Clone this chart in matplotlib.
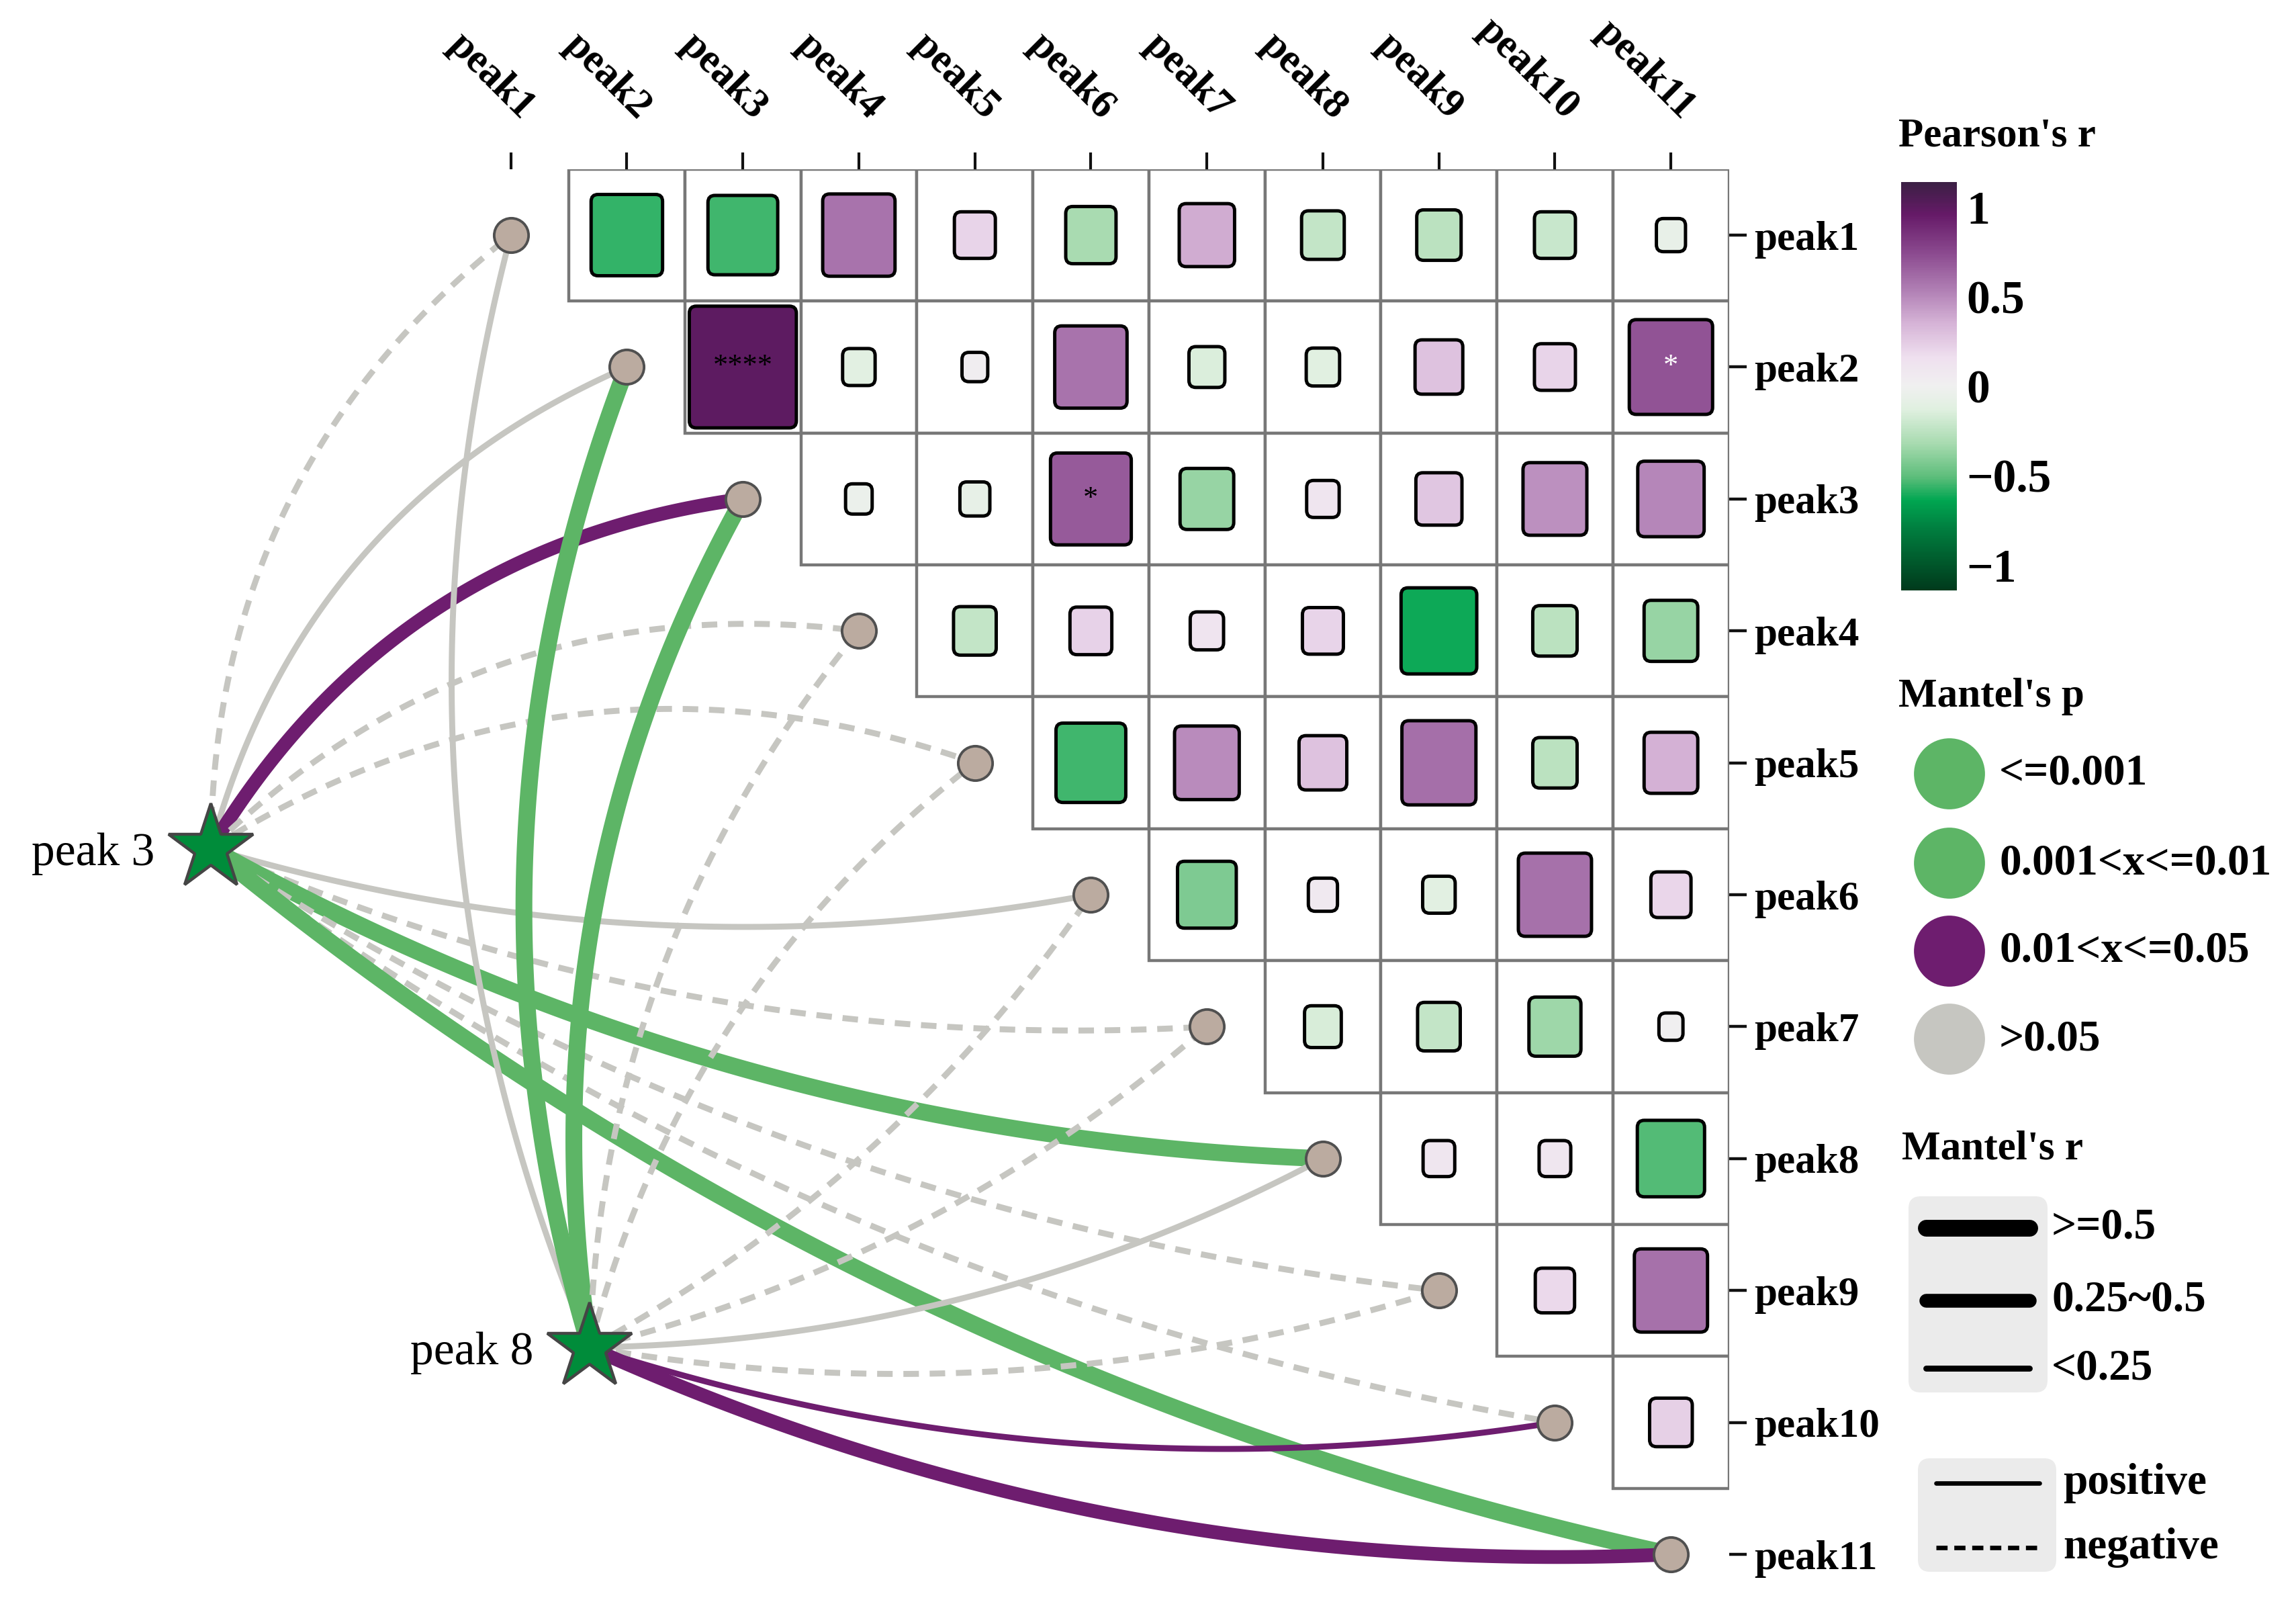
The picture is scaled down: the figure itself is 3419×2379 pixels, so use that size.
import numpy as np
import matplotlib
matplotlib.use("Agg")
import matplotlib.pyplot as plt
from matplotlib.colors import LinearSegmentedColormap, Normalize
from matplotlib.patches import FancyBboxPatch, Rectangle
from matplotlib.cm import ScalarMappable

plt.rcParams['font.family'] = ['Liberation Serif', 'DejaVu Serif']

# ---------------- data ----------------
peaks = ['peak1', 'peak2', 'peak3', 'peak4', 'peak5', 'peak6',
         'peak7', 'peak8', 'peak9', 'peak10', 'peak11']

# Pearson's r, upper triangle, row peak_i against peak_(i+1) ... peak11
r_rows = [
    [-0.57, -0.55, 0.58, 0.21, -0.32, 0.38, -0.23, -0.25, -0.21, -0.07],
    [0.99, -0.11, 0.03, 0.58, -0.15, -0.12, 0.29, 0.21, 0.71],
    [-0.04, -0.08, 0.68, -0.36, 0.11, 0.27, 0.48, 0.51],
    [-0.23, 0.22, 0.12, 0.21, -0.62, -0.25, -0.36],
    [-0.55, 0.49, 0.29, 0.60, -0.25, 0.36],
    [-0.42, 0.07, -0.11, 0.59, 0.20],
    [-0.16, -0.23, -0.34, 0.01],
    [0.10, 0.10, -0.52],
    [0.19, 0.59],
    [0.23],
]
sig_row = ['peak2', 'peak2', 'peak3']
sig_col = ['peak3', 'peak11', 'peak6']
sig_txt = ['****', '*', '*']

env_names = ['peak 3', 'peak 8']
mantel_r_peak3 = [-0.10, 0.12, 0.38, -0.08, -0.10, 0.10, -0.09, 0.55, -0.12, -0.05, 0.58]
mantel_p_peak3 = [0.42, 0.21, 0.023, 0.55, 0.47, 0.31, 0.62, 0.0006, 0.71, 0.83, 0.0004]
mantel_r_peak8 = [0.08, 0.56, 0.60, -0.10, -0.07, -0.11, -0.09, 0.12, -0.06, 0.20, 0.35]
mantel_p_peak8 = [0.28, 0.0008, 0.004, 0.52, 0.63, 0.41, 0.57, 0.16, 0.74, 0.031, 0.018]

p_labels = ['<=0.001', '0.001<x<=0.01', '0.01<x<=0.05', '>0.05']
r_labels = ['>=0.5', '0.25~0.5', '<0.25']

# ---------------- style ----------------
W, H = 3419, 2379
DPI = 200
p_colors = ['#5db566', '#5db566', '#6e1d6f', '#c6c6c1']
r_widths = [9.0, 7.4, 3.2]

cmap = LinearSegmentedColormap.from_list('pr', [
    (0.00, '#003a1c'), ((1.14 - 0.98) / 2.28, '#005a2c'), ((1.14 - 0.79) / 2.28, '#008040'),
    ((1.14 - 0.64) / 2.28, '#00a651'), ((1.14 - 0.51) / 2.28, '#5cbd7a'),
    ((1.14 - 0.32) / 2.28, '#a8dbb0'), ((1.14 - 0.13) / 2.28, '#e0f0e0'),
    (0.5, '#f0f0f0'), ((1.14 + 0.16) / 2.28, '#efe0ef'), ((1.14 + 0.35) / 2.28, '#d6b4d7'),
    ((1.14 + 0.54) / 2.28, '#b07fb4'), ((1.14 + 0.73) / 2.28, '#8e4e92'),
    ((1.14 + 0.96) / 2.28, '#661a68'), (1.0, '#3b1f44')])
norm = Normalize(-1.14, 1.14)


def p_class(p):
    if p <= 0.001:
        return 0
    if p <= 0.01:
        return 1
    if p <= 0.05:
        return 2
    return 3


def r_class(r):
    if abs(r) >= 0.5:
        return 0
    if abs(r) >= 0.25:
        return 1
    return 2


fig = plt.figure(figsize=(W / DPI, H / DPI), dpi=DPI)
fig.patch.set_facecolor('white')

# main grid axes (columns / rows = peaks)
x0, x1 = 674.3, 2574.6
y0 = 251.8
ax = fig.add_axes([x0 / W, 0, (x1 - x0) / W, (H - y0) / H])
n = len(peaks)
ax.set_xlim(0.5, n + 0.5)
ax.set_ylim(0.5 + (H - y0) / 196.4, 0.5)
for s in ax.spines.values():
    s.set_visible(False)
ax.patch.set_alpha(0)

ax.xaxis.tick_top()
ax.set_xticks(range(1, n + 1))
ax.set_xticklabels([])
for j, name in enumerate(peaks, start=1):
    ax.annotate(name, (j, 0.5), xytext=(9.4, 30), textcoords='offset points',
                rotation=-45, ha='right', va='center', rotation_mode='anchor',
                fontsize=22, fontweight='bold', annotation_clip=False)
ax.yaxis.tick_right()
ax.set_yticks(range(1, n + 1))
ax.set_yticklabels(peaks, fontsize=22, fontweight='bold')
ax.tick_params(axis='x', length=9, width=1.5, color='#111111')
ax.tick_params(axis='y', length=9.5, width=1.6, pad=4, color='#111111')

# pixel aspect for rounded squares
ppx = ax.transData.transform((2, 1))[0] - ax.transData.transform((1, 1))[0]
ppy = abs(ax.transData.transform((1, 2))[1] - ax.transData.transform((1, 1))[1])
asp = ppx / ppy

# grid cells and squares
for i, row in enumerate(r_rows, start=1):
    for k, r in enumerate(row):
        j = i + 1 + k
        ax.add_patch(Rectangle((j - 0.5, i - 0.5), 1, 1, fc='white', ec='#777777',
                               lw=1.6, zorder=2))
for i, row in enumerate(r_rows, start=1):
    for k, r in enumerate(row):
        j = i + 1 + k
        f = 0.2 + 0.73 * abs(r)
        ax.add_patch(FancyBboxPatch((j - f / 2, i - f / 2), f, f,
                                    boxstyle='round,pad=0,rounding_size=0.06',
                                    mutation_aspect=asp, fc=cmap(norm(r)),
                                    ec='black', lw=1.8, zorder=3))
for a, b, t in zip(sig_row, sig_col, sig_txt):
    i = peaks.index(a) + 1
    j = peaks.index(b) + 1
    r = r_rows[i - 1][j - i - 1]
    ax.text(j, i, t, ha='center', va='center', fontsize=16,
            color='white' if (t == '*' and r > 0.7) else 'black', zorder=4)

# environment stars (layout positions in grid units)
env_pos = [(-1.586, 5.649), (1.680, 9.432)]
env_bend = [(0.12, -0.06), (0.085, -0.06)]
env_r = [mantel_r_peak3, mantel_r_peak8]
env_p = [mantel_p_peak3, mantel_p_peak8]


def curve(a, b, bend, m=100):
    pa = ax.transData.transform(a)
    pb = ax.transData.transform(b)
    v = pb - pa
    ctrl = (pa + pb) / 2 + 2 * bend * np.array([-v[1], v[0]])
    t = np.linspace(0, 1, m)[:, None]
    pts = (1 - t) ** 2 * pa + 2 * t * (1 - t) * ctrl + t ** 2 * pb
    return ax.transData.inverted().transform(pts)


for (ex, ey), (bu, bd), rr, pp in zip(env_pos, env_bend, env_r, env_p):
    for k in range(n):
        bend = bu if k + 1 < (n + 1) / 2 else bd
        c = curve((ex, ey), (k + 1, k + 1), bend)
        ls = '-' if rr[k] > 0 else (0, (2.6, 1.8))
        ax.plot(c[:, 0], c[:, 1], color=p_colors[p_class(pp[k])],
                lw=r_widths[r_class(rr[k])], ls=ls, solid_capstyle='butt',
                dash_capstyle='butt', clip_on=False, zorder=1)

ax.scatter(range(1, n + 1), range(1, n + 1), s=340, c='#bbaba0',
           edgecolors='#505050', linewidths=1.4, clip_on=False, zorder=5)
for (ex, ey), name in zip(env_pos, env_names):
    ax.plot(ex, ey, marker='*', ms=48, mfc='#008c3a', mec='#454545', mew=1.6,
            clip_on=False, zorder=6)
    ax.annotate(name, (ex, ey), xytext=(-30, -3), textcoords='offset points',
                ha='right', va='center', fontsize=25, annotation_clip=False)

# ---------------- colorbar ----------------
cax = fig.add_axes([2831 / W, 1 - 879 / H, 83 / W, 608 / H])
cb = fig.colorbar(ScalarMappable(norm=norm, cmap=cmap), cax=cax,
                  ticks=[-1, -0.5, 0, 0.5, 1])
cb.outline.set_visible(False)
cb.set_ticklabels(['\u22121', '\u22120.5', '0', '0.5', '1'])
cax.tick_params(length=0, labelsize=25, pad=5)
for lab in cax.get_yticklabels():
    lab.set_fontweight('bold')

# ---------------- legends (pixel overlay) ----------------
lax = fig.add_axes([0, 0, 1, 1])
lax.set_xlim(0, W)
lax.set_ylim(H, 0)
lax.axis('off')

lax.text(2827, 203, "Pearson's r", fontsize=22, fontweight='bold', va='center')

lax.text(2827, 1037, "Mantel's p", fontsize=22, fontweight='bold', va='center')
py = [1152, 1285, 1416, 1547]
lax.scatter([2903] * 4, py, s=1450, c=p_colors, linewidths=0)
for yy, lab in zip(py, p_labels):
    lax.text(2977, yy, lab, fontsize=23.5, fontweight='bold', va='center')

lax.text(2832, 1711, "Mantel's r", fontsize=22, fontweight='bold', va='center')
lax.add_patch(FancyBboxPatch((2842, 1781), 207, 292, boxstyle='round,pad=0,rounding_size=18',
                             fc='#ebebeb', ec='none'))
ry = [1828, 1936, 2037]
for yy, w, lab in zip(ry, r_widths, r_labels):
    lax.plot([2868, 3022], [yy, yy], color='black', lw=w, solid_capstyle='round')
    lax.text(3055, yy, lab, fontsize=23.5, fontweight='bold', va='center')

lax.add_patch(FancyBboxPatch((2856, 2171), 206, 169, boxstyle='round,pad=0,rounding_size=18',
                             fc='#ebebeb', ec='none'))
lax.plot([2883, 3037], [2208, 2208], color='black', lw=2.4, solid_capstyle='round')
lax.plot([2883, 3037], [2304, 2304], color='black', lw=2.4, ls=(0, (2.5, 1.5)))
lax.text(3072, 2208, 'positive', fontsize=23.5, fontweight='bold', va='center')
lax.text(3072, 2304, 'negative', fontsize=23.5, fontweight='bold', va='center')

fig.savefig('out.png', dpi=DPI, facecolor='white')
